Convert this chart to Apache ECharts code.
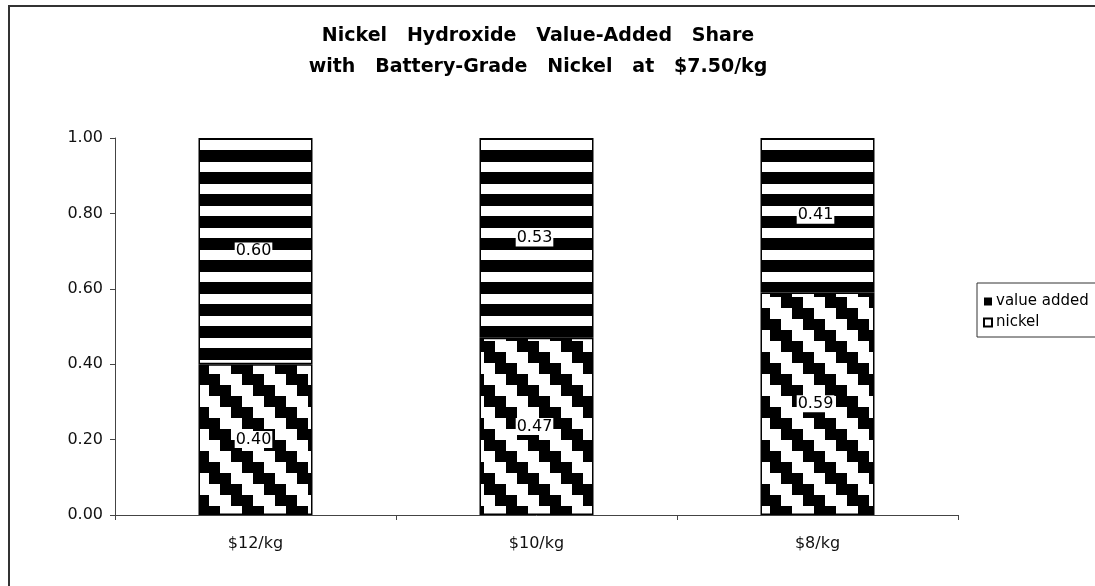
<!DOCTYPE html>
<html>
<head>
<meta charset="utf-8">
<script src="https://cdn.jsdelivr.net/npm/echarts@6/dist/echarts.min.js"></script>
<style>
html,body{margin:0;padding:0;background:#fff;}
#chart{width:1095px;height:586px;}
</style>
</head>
<body>
<div id="chart"></div>
<script>
const categories = ['$12/kg', '$10/kg', '$8/kg'];
const nickelValues = [0.40, 0.47, 0.59];
const valueAddedValues = [0.60, 0.53, 0.41];
const yTicks = [0, 0.2, 0.4, 0.6, 0.8, 1.0];
const titleText = 'Nickel   Hydroxide   Value-Added   Share\nwith   Battery-Grade   Nickel   at   $7.50/kg';

function stripePattern() {
  const c = document.createElement('canvas');
  c.width = 22; c.height = 22;
  const ctx = c.getContext('2d');
  ctx.fillStyle = '#fff'; ctx.fillRect(0, 0, 22, 22);
  ctx.fillStyle = '#000';
  ctx.fillRect(0, 18, 22, 4);
  ctx.fillRect(0, 0, 22, 8);
  return c;
}
function stairPattern() {
  const S = 44;
  const c = document.createElement('canvas');
  c.width = S; c.height = S;
  const ctx = c.getContext('2d');
  ctx.fillStyle = '#fff'; ctx.fillRect(0, 0, S, S);
  ctx.fillStyle = '#000';
  const e = [0, 11, 22, 33, 44];
  for (let r = 0; r < 4; r++) {
    const y0 = e[r], h = e[r + 1] - e[r];
    const x0 = e[r];
    for (let k = -1; k <= 1; k++) {
      ctx.fillRect(x0 + k * S, y0, 22, h);
    }
  }
  return c;
}

const chart = echarts.init(document.getElementById('chart'), null, {renderer: 'canvas'});
const labelStyle = {
  show: true,
  position: 'inside',
  offset: [-2, 0],
  color: '#000',
  backgroundColor: '#fff',
  padding: [1, 1, 0, 1],
  fontFamily: 'DejaVu Sans',
  fontSize: 16,
  formatter: p => p.value.toFixed(2)
};
chart.setOption({
  backgroundColor: '#fff',
  animation: false,
  graphic: [{
    type: 'rect',
    shape: {x: 9, y: 6, width: 1200, height: 700},
    style: {fill: 'none', stroke: '#333', lineWidth: 2},
    silent: true,
    z: -10
  }],
  title: {
    text: titleText,
    left: 538,
    textAlign: 'center',
    top: 21,
    padding: 0,
    textStyle: {
      fontFamily: 'DejaVu Sans',
      fontWeight: 'bold',
      fontSize: 19,
      lineHeight: 31,
      color: '#000'
    }
  },
  legend: {
    orient: 'vertical',
    left: 977,
    top: 283,
    padding: [11, 40, 7, 6],
    itemGap: 6,
    itemWidth: 8,
    itemHeight: 8,
    borderColor: '#333',
    borderWidth: 1,
    icon: 'rect',
    textStyle: {fontFamily: 'DejaVu Sans', fontSize: 15, color: '#000', padding: [0, 0, 0, -1]},
    data: [
      {name: 'value added', itemStyle: {color: '#000', borderWidth: 0}},
      {name: 'nickel', itemStyle: {color: '#fff', borderColor: '#000', borderWidth: 2}}
    ]
  },
  grid: {left: 115, top: 138, width: 843, height: 377},
  xAxis: {
    type: 'category',
    data: categories,
    axisLine: {lineStyle: {color: '#444', width: 1}},
    axisTick: {show: true, length: 5, lineStyle: {color: '#444'}},
    axisLabel: {color: '#111', fontFamily: 'DejaVu Sans', fontSize: 16, margin: 21}
  },
  yAxis: {
    type: 'value',
    min: 0, max: 1, interval: 0.2,
    splitLine: {show: false},
    axisLine: {show: true, lineStyle: {color: '#444', width: 1}},
    axisTick: {show: true, length: 5, lineStyle: {color: '#444'}},
    axisLabel: {
      color: '#111', fontFamily: 'DejaVu Sans', fontSize: 16, margin: 12,
      formatter: v => (yTicks.some(t => Math.abs(t - v) < 1e-9) ? v.toFixed(2) : '')
    }
  },
  series: [
    {
      name: 'nickel',
      type: 'bar',
      stack: 'total',
      barWidth: 114,
      data: nickelValues,
      itemStyle: {color: {image: stairPattern(), repeat: 'repeat'}, borderColor: '#000', borderWidth: 1.5},
      label: labelStyle
    },
    {
      name: 'value added',
      type: 'bar',
      stack: 'total',
      barWidth: 114,
      data: valueAddedValues,
      itemStyle: {color: {image: stripePattern(), repeat: 'repeat'}, borderColor: '#000', borderWidth: 1.5},
      label: labelStyle
    }
  ]
});
</script>
</body>
</html>
